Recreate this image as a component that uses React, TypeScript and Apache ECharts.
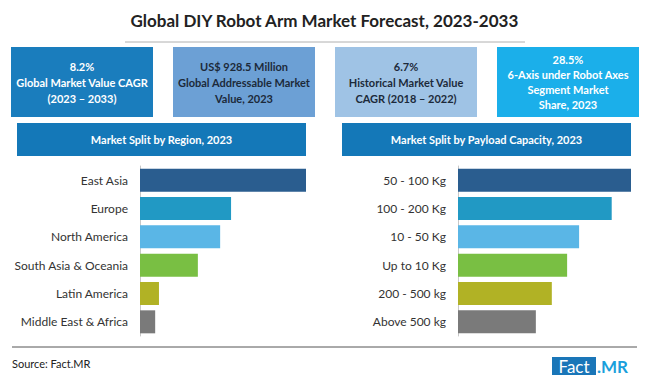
import React, { useEffect, useRef } from "react";
import * as echarts from "echarts";

const regionCategories = ["East Asia", "Europe", "North America", "South Asia & Oceania", "Latin America", "Middle East & Africa"];
const regionValues = [35.0, 19.2, 16.9, 12.2, 4.0, 3.2];
const payloadCategories = ["50 - 100 Kg", "100 - 200 Kg", "10 - 50 Kg", "Up to 10 Kg", "200 - 500 kg", "Above 500 kg"];
const payloadValues = [26.0, 23.1, 18.2, 16.4, 14.1, 11.7];
const barColors = ["#2a5d8f", "#2199c4", "#5ab6e6", "#79bf43", "#b1b225", "#7a7a7a"];

const title = "Global DIY Robot Arm Market Forecast, 2023-2033";
const kpiTexts = [
  "8.2%\nGlobal Market Value CAGR\n(2023 – 2033)",
  "US$ 928.5 Million\nGlobal Addressable Market\nValue, 2023",
  "6.7%\nHistorical Market Value\nCAGR (2018 – 2022)",
  "28.5%\n6-Axis under Robot Axes\nSegment Market\nShare, 2023",
];
const kpiFill = ["#1a7dbd", "#6ca0d5", "#9fc3e5", "#1bafea"];
const kpiTextColor = ["#ffffff", "#1c2a3a", "#1c2a3a", "#ffffff"];
const panelTitles = ["Market Split by Region, 2023", "Market Split by Payload Capacity, 2023"];
const sourceText = "Source: Fact.MR";

const FONT = "Lato";

export default function App() {
  const ref = useRef<HTMLDivElement>(null);
  useEffect(() => {
    document.body.style.margin = "0";
    const chart = echarts.init(ref.current!, null, { renderer: "svg" });
    const boxX = [11, 173, 335, 497];
    const graphics: any[] = [
      {
        type: "text",
        left: "center",
        top: 12,
        style: { text: title, font: `bold 17px ${FONT}`, fill: "#222" },
      },
      {
        type: "line",
        shape: { x1: 125, y1: 42, x2: 525, y2: 42 },
        style: { stroke: "#b0b0b0", lineWidth: 1 },
      },
    ];
    kpiTexts.forEach((t, i) => {
      graphics.push({
        type: "rect",
        shape: { x: boxX[i], y: 47, width: 142, height: 70 },
        style: { fill: kpiFill[i] },
      });
      graphics.push({
        type: "text",
        x: boxX[i] + 71,
        y: 82,
        style: {
          text: t,
          font: `bold 11px ${FONT}`,
          fill: kpiTextColor[i],
          align: "center",
          verticalAlign: "middle",
          lineHeight: i === 3 ? 15 : 16,
        },
      });
    });
    const panelX = [17, 342];
    panelTitles.forEach((t, i) => {
      graphics.push({
        type: "rect",
        shape: { x: panelX[i], y: 123, width: 289, height: 33 },
        style: { fill: "#1478b8" },
      });
      graphics.push({
        type: "text",
        x: panelX[i] + 144.5,
        y: 139.5,
        style: { text: t, font: `bold 11px ${FONT}`, fill: "#fff", align: "center", verticalAlign: "middle" },
      });
    });
    graphics.push(
      { type: "line", shape: { x1: 12, y1: 347, x2: 637, y2: 347 }, style: { stroke: "#555", lineWidth: 1 } },
      { type: "text", x: 12, y: 363, style: { text: sourceText, font: `11px ${FONT}`, fill: "#222", verticalAlign: "middle" } },
      { type: "rect", shape: { x: 552, y: 357, width: 44, height: 18 }, style: { fill: "#1a76b8" } },
      { type: "text", x: 574, y: 366.5, style: { text: "Fact", font: `17px ${FONT}`, fill: "#fff", align: "center", verticalAlign: "middle" } },
      { type: "text", x: 597, y: 366.5, style: { text: ".MR", font: `bold 17px ${FONT}`, fill: "#1a9fdc", verticalAlign: "middle" } }
    );

    const mkY = (idx: number, cats: string[]) => ({
      type: "category",
      gridIndex: idx,
      data: cats,
      inverse: true,
      axisTick: { show: false },
      axisLine: { lineStyle: { color: "#c8c8c8", width: 1 } },
      axisLabel: { color: "#333", fontSize: 12, fontFamily: FONT, margin: 12 },
    });
    const mkX = (idx: number, max: number) => ({
      type: "value",
      gridIndex: idx,
      min: 0,
      max,
      show: false,
      splitLine: { show: false },
    });
    const mkSeries = (idx: number, vals: number[]) => ({
      type: "bar",
      xAxisIndex: idx,
      yAxisIndex: idx,
      barWidth: 23,
      data: vals.map((v, i) => ({ value: v, itemStyle: { color: barColors[i] } })),
    });

    chart.setOption({
      animation: false,
      grid: [
        { left: 140, top: 166, width: 166, height: 170 },
        { left: 458, top: 166, width: 173, height: 170 },
      ],
      xAxis: [mkX(0, regionValues[0]), mkX(1, payloadValues[0])],
      yAxis: [mkY(0, regionCategories), mkY(1, payloadCategories)],
      series: [mkSeries(0, regionValues), mkSeries(1, payloadValues)],
      graphic: graphics,
    });
    return () => chart.dispose();
  }, []);
  return <div ref={ref} style={{ width: 650, height: 385 }} />;
}
